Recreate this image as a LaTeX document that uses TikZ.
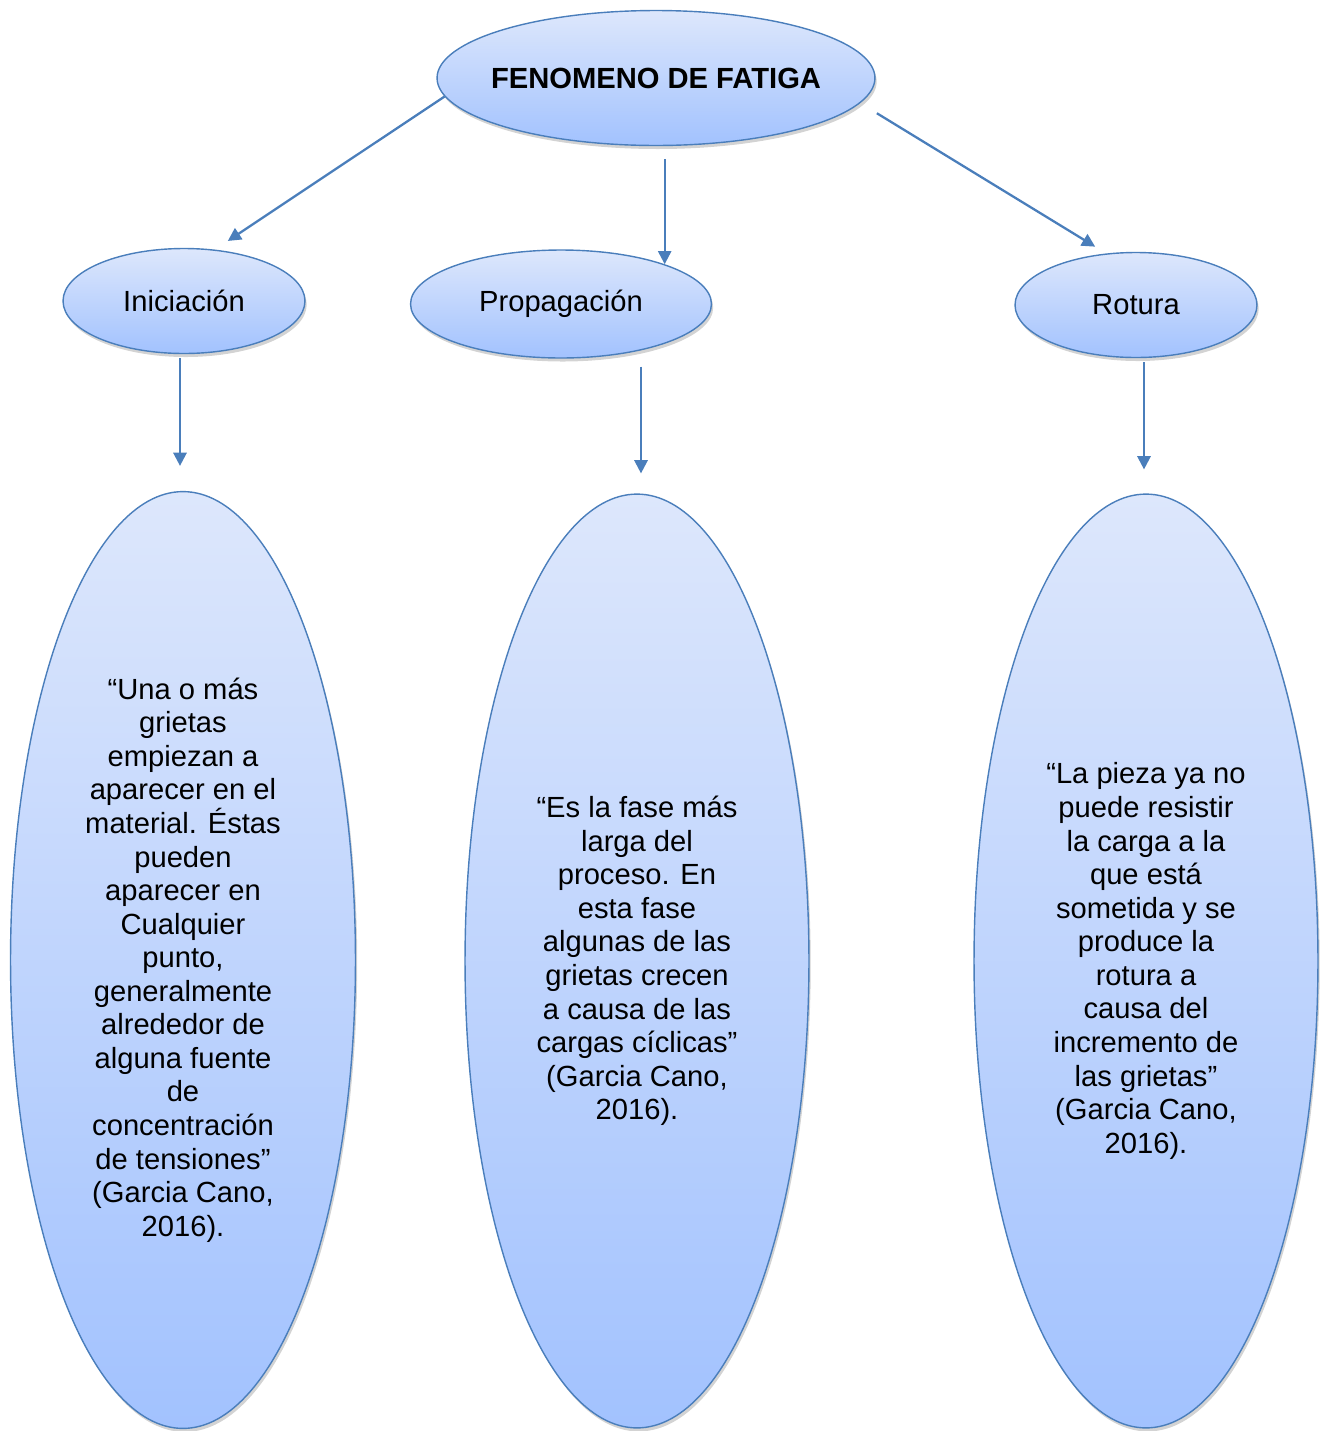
\documentclass[tikz,border=0pt]{standalone}
\usepackage{fontspec}
\setmainfont{Liberation Sans}
\usetikzlibrary{shapes,shadows,arrows.meta,calc}
\definecolor{edge}{HTML}{4A7EBB}
\definecolor{filltop}{HTML}{DDE7FC}
\definecolor{fillbot}{HTML}{A2C2FE}

\begin{document}
\begin{tikzpicture}[x=0.02cm, y=-0.02cm,
		bub/.style={ellipse, draw=edge, line width=0.8pt, top color=filltop, bottom color=fillbot,
			inner sep=0pt, align=center, font=\fontsize{16.6}{19.1}\selectfont,
			drop shadow={opacity=0.35, shadow xshift=1pt, shadow yshift=-2pt}},
		arr/.style={draw=edge, line width=1.3pt, -{Triangle[width=7.5pt,length=7.5pt]}}]
		\useasboundingbox (0, 0) rectangle (1329, 1431);
		% top level
		\path (656, 78) node(fat) [bub, minimum width=8.76cm, minimum height=2.7cm,
			label={[font=\fontsize{16.6}{19.1}\selectfont\bfseries]center:FENOMENO DE FATIGA}] {};
		% stages
		\path (184, 301) node(ini) [bub, minimum width=4.84cm, minimum height=2.1cm] {Iniciación};
		\path (561, 304) node(prop) [bub, minimum width=6.02cm, minimum height=2.16cm] {Propagación};
		\path (1136, 305) node(rot) [bub, minimum width=4.84cm, minimum height=2.1cm] {Rotura};
		% descriptions
		\path (183, 960) node(dini) [bub, minimum width=6.9cm, minimum height=18.74cm]
			{“Una o más\\grietas\\empiezan a\\aparecer en el\\material. Éstas\\pueden\\aparecer en\\Cualquier\\punto,\\generalmente\\alrededor de\\alguna fuente\\de\\concentración\\de tensiones”\\(Garcia Cano,\\2016).};
		\path (637, 961) node(dprop) [bub, minimum width=6.88cm, minimum height=18.68cm]
			{“Es la fase más\\larga del\\proceso. En\\esta fase\\algunas de las\\grietas crecen\\a causa de las\\cargas cíclicas”\\(Garcia Cano,\\2016).};
		\path (1146, 961) node(drot) [bub, minimum width=6.88cm, minimum height=18.68cm]
			{“La pieza ya no\\puede resistir\\la carga a la\\que está\\sometida y se\\produce la\\rotura a\\causa del\\incremento de\\las grietas”\\(Garcia Cano,\\2016).};
		% arrows
		\draw [arr, shorten >=0.31cm] (fat.185) to (ini.59);
		\draw [arr] ($(fat.south -| prop.21.6)+(0, 13)$) to (prop.21.6);
		\draw [arr, shorten <=0.39cm, shorten >=0.26cm] (fat.-7) to (rot.120);
		\draw [arr, shorten <=0.08cm, shorten >=0.5cm] (ini.south -| 180, 0) to (dini.north -| 180, 0);
		\draw [arr, shorten <=0.16cm, shorten >=0.4cm] (prop.south -| 641, 0) to (dprop.north -| 641, 0);
		\draw [arr, shorten <=0.08cm, shorten >=0.48cm] (rot.south -| 1144, 0) to (drot.north -| 1144, 0);
	\end{tikzpicture}
\end{document}
